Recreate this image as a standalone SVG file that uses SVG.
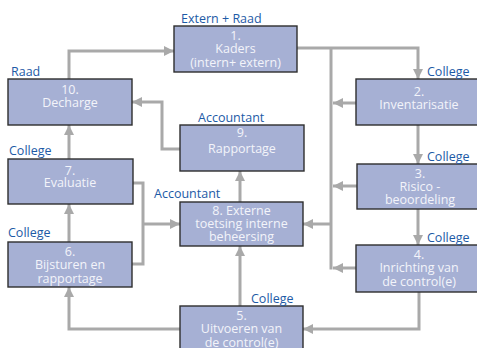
<svg xmlns="http://www.w3.org/2000/svg" width="477" height="348" viewBox="0 0 477 348">
<style>
.box{fill:#a6b0d4;stroke:#2e2e2e;stroke-width:1.4}
.t{font-family:"Open Sans","Liberation Sans",sans-serif;font-size:12.5px;fill:#f3f4fa;text-anchor:middle}
.lbl{font-family:"Open Sans","Liberation Sans",sans-serif;font-size:12.5px;fill:#1d5aa6}
.c{fill:none;stroke:#a9a9a9;stroke-width:3}
</style>
<defs>
<marker id="ah" viewBox="0 0 10 10" refX="10" refY="5" markerWidth="10" markerHeight="10" markerUnits="userSpaceOnUse" orient="auto">
<path d="M0,0 L10,5 L0,10 z" fill="#a9a9a9"/>
</marker>
</defs>
<rect width="477" height="348" fill="#ffffff"/>
<g id="connectors">
<path class="c" d="M69,79 V51 H174" marker-end="url(#ah)"/>
<path class="c" d="M297,48 H418 V79" marker-end="url(#ah)"/>
<path class="c" d="M331,48 V269.5"/>
<path class="c" d="M356,103 H333" marker-end="url(#ah)"/>
<path class="c" d="M357,186 H333" marker-end="url(#ah)"/>
<path class="c" d="M356,268 H333" marker-end="url(#ah)"/>
<path class="c" d="M331,224 H303" marker-end="url(#ah)"/>
<path class="c" d="M418,125 V164" marker-end="url(#ah)"/>
<path class="c" d="M418,209 V245" marker-end="url(#ah)"/>
<path class="c" d="M419,292 V329 H303" marker-end="url(#ah)"/>
<path class="c" d="M180,329 H69 V287" marker-end="url(#ah)"/>
<path class="c" d="M240,306 V246" marker-end="url(#ah)"/>
<path class="c" d="M240,202 V171" marker-end="url(#ah)"/>
<path class="c" d="M180,149 H162 V102 H132" marker-end="url(#ah)"/>
<path class="c" d="M69,159 V125" marker-end="url(#ah)"/>
<path class="c" d="M69,242 V204" marker-end="url(#ah)"/>
<path class="c" d="M133,183 H143 V264 H132"/>
<path class="c" d="M143,224 H180" marker-end="url(#ah)"/>
</g>
<g id="n1">
<rect class="box" x="174" y="26" width="123" height="46"/>
<text class="t" x="235.5" y="39.5">1.</text>
<text class="t" x="235.5" y="53">Kaders</text>
<text class="t" x="235.5" y="66.5">(intern+ extern)</text>
<text class="lbl" x="181" y="23">Extern + Raad</text>
</g>
<g id="n2">
<rect class="box" x="356" y="79" width="126" height="46"/>
<text class="t" x="419" y="95.5">2.</text>
<text class="t" x="419" y="108.5">Inventarisatie</text>
<text class="lbl" x="427" y="76">College</text>
</g>
<g id="n3">
<rect class="box" x="357" y="164" width="125" height="45"/>
<text class="t" x="420" y="178">3.</text>
<text class="t" x="420" y="191">Risico -</text>
<text class="t" x="420" y="204">beoordeling</text>
<text class="lbl" x="427" y="161">College</text>
</g>
<g id="n4">
<rect class="box" x="356" y="245" width="126" height="47"/>
<text class="t" x="419" y="258.5">4.</text>
<text class="t" x="419" y="272">Inrichting van</text>
<text class="t" x="419" y="285.5">de control(e)</text>
<text class="lbl" x="427" y="242">College</text>
</g>
<g id="n5">
<rect class="box" x="180" y="306" width="123" height="46"/>
<text class="t" x="241.5" y="319.5">5.</text>
<text class="t" x="241.5" y="333">Uitvoeren van</text>
<text class="t" x="241.5" y="346.5">de control(e)</text>
<text class="lbl" x="251" y="303">College</text>
</g>
<g id="n6">
<rect class="box" x="8" y="242" width="124" height="45"/>
<text class="t" x="70" y="255.5">6.</text>
<text class="t" x="70" y="269">Bijsturen en</text>
<text class="t" x="70" y="282.5">rapportage</text>
<text class="lbl" x="8" y="237">College</text>
</g>
<g id="n7">
<rect class="box" x="8" y="159" width="125" height="45"/>
<text class="t" x="70" y="174.5">7.</text>
<text class="t" x="70" y="187">Evaluatie</text>
<text class="lbl" x="9" y="155">College</text>
</g>
<g id="n8">
<rect class="box" x="180" y="202" width="123" height="44"/>
<text class="t" x="241.5" y="214.5">8. Externe</text>
<text class="t" x="241.5" y="227.5">toetsing interne</text>
<text class="t" x="241.5" y="240.5">beheersing</text>
<text class="lbl" x="154" y="198">Accountant</text>
</g>
<g id="n9">
<rect class="box" x="180" y="125" width="124" height="46"/>
<text class="t" x="242" y="137">9.</text>
<text class="t" x="242" y="152.5">Rapportage</text>
<text class="lbl" x="198" y="122">Accountant</text>
</g>
<g id="n10">
<rect class="box" x="8" y="79" width="124" height="46"/>
<text class="t" x="70" y="93.5">10.</text>
<text class="t" x="70" y="106.5">Decharge</text>
<text class="lbl" x="11" y="76">Raad</text>
</g>
</svg>
